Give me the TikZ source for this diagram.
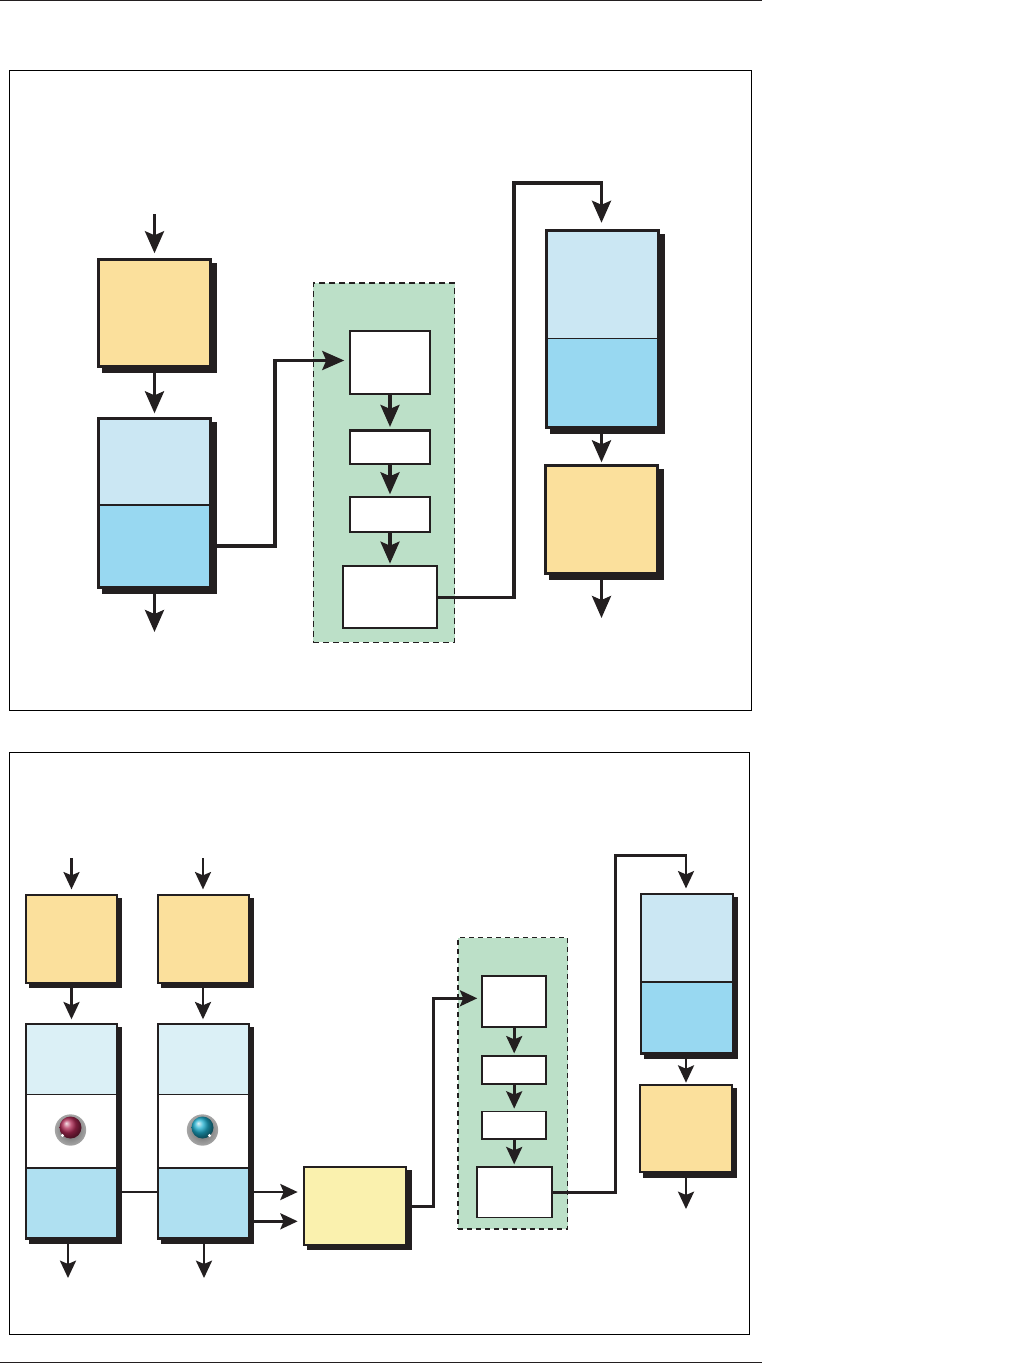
\documentclass[tikz,border=0pt]{standalone}
\usetikzlibrary{arrows.meta, positioning, shadows}

\definecolor{orangefill}{HTML}{FBE09C}
\definecolor{lightblue}{HTML}{CBE7F3}
\definecolor{midblue}{HTML}{98D8F1}
\definecolor{paleblue}{HTML}{DBF0F6}
\definecolor{skyblue}{HTML}{AFE0F1}
\definecolor{groupgreen}{HTML}{BCE0C8}
\definecolor{yellowfill}{HTML}{FAF1AE}
\definecolor{inkblack}{HTML}{231F20}
\definecolor{knobred}{HTML}{B02A55}
\definecolor{knobteal}{HTML}{1FB0D0}

\begin{document}
\begin{tikzpicture}[
    x=0.75pt, y=-0.75pt,
    node distance=26pt,
    stage/.style={rectangle, draw=inkblack, line width=2.3pt, inner sep=0pt, minimum width=84pt, drop shadow={shadow xshift=3.6pt, shadow yshift=-3.6pt, opacity=1, fill=inkblack, draw=inkblack, line width=2.3pt}},
    smallstage/.style={rectangle, draw=inkblack, line width=1.5pt, inner sep=0pt, minimum width=68.25pt, drop shadow={shadow xshift=3.2pt, shadow yshift=-3.2pt, opacity=1, fill=inkblack, draw=inkblack, line width=1.5pt}},
    section/.style={rectangle, draw=inkblack, line width=0.8pt, inner sep=0pt},
    panel/.style={rectangle, draw=black, line width=0.7pt, fill=white, inner sep=0pt},
    group/.style={rectangle, draw=inkblack, dash pattern=on 4.5pt off 3pt, line width=1.1pt, fill=groupgreen, inner sep=0pt},
    smallgroup/.style={rectangle, draw=inkblack, dash pattern=on 3.75pt off 3pt, line width=0.9pt, fill=groupgreen, inner sep=0pt},
    unit/.style={rectangle, draw=inkblack, line width=1.6pt, fill=white, inner sep=0pt},
    smallunit/.style={rectangle, draw=inkblack, line width=1.4pt, fill=white, inner sep=0pt},
    arrow/.style={-{Stealth[length=16.5pt, width=14.25pt, inset=3pt]}, draw=inkblack, line width=2.5pt},
    smallarrow/.style={-{Stealth[length=13pt, width=12pt, inset=2.5pt]}, draw=inkblack, line width=2pt}
]
\useasboundingbox (0,0) rectangle (1014,1363);

% Page rules
\coordinate (RuleTopL) at (0,0.5);
\coordinate (RuleTopR) at (762,0.5);
\coordinate (RuleBotL) at (0,1362.3);
\coordinate (RuleBotR) at (762,1362.3);
\draw[inkblack, line width=1pt] (RuleTopL) -- (RuleTopR);
\draw[inkblack, line width=0.9pt] (RuleBotL) -- (RuleBotR);

% Panels
\node[panel, minimum width=556.2pt, minimum height=480pt] (PanelA) at (380.4,390.5) {};
\node[panel, minimum width=555pt, minimum height=436.35pt] (PanelB) at (379.6,1043.4) {};

% Upper panel, left column
\node[stage, fill=orangefill, minimum height=80.5pt] (SrcA) at (154.5,313) {};
\node[stage, fill=lightblue, minimum height=126.6pt, below=36.85pt of SrcA] (SrcFrame) {};
\node[section, fill=midblue, minimum width=82.7pt, minimum height=60.95pt, anchor=south] (SrcBot) at ([yshift=1.8pt]SrcFrame.south) {};

% Upper panel, group
\node[group, minimum width=106pt, minimum height=269.5pt] (GroupA) at (384,462.6) {};
\node[unit, minimum width=59.5pt, minimum height=46.8pt] (UnitA) at (390,362.5) {};
\node[unit, minimum width=59.5pt, minimum height=25pt, below=26pt of UnitA] (UnitB) {};
\node[unit, minimum width=59.5pt, minimum height=26pt, below=23.5pt of UnitB] (UnitC) {};
\node[unit, minimum width=70pt, minimum height=46.8pt, below=23.7pt of UnitC] (UnitD) {};

% Upper panel, right column
\node[stage, fill=lightblue, minimum height=148pt] (DstFrame) at (602.5,329) {};
\node[section, fill=midblue, minimum width=82.7pt, minimum height=65.85pt, anchor=south] (DstBot) at ([yshift=1.8pt]DstFrame.south) {};
\node[stage, fill=orangefill, minimum height=80.9pt, below=26.35pt of DstFrame, xshift=-0.75pt] (DstA) {};

% Upper panel edges
\coordinate (InA) at (154.5,214);
\coordinate (OutA) at (154.5,632);
\coordinate (OutB) at (601.5,618);
\coordinate (TurnA) at (275,546);
\coordinate (TurnB) at (514,597.3);
\coordinate (TurnC) at (601.5,183);
\coordinate (EntryA) at (344,360.5);
\draw[arrow, shorten >=3.4pt] (InA) -- (SrcA);
\draw[arrow, shorten >=3pt] (SrcA) -- (SrcFrame);
\draw[arrow] (SrcFrame.south -| OutA) -- (OutA);
\draw[arrow, shorten >=3.75pt] (SrcFrame.east |- TurnA) -- (TurnA) |- (UnitA.west |- EntryA);
\draw[arrow, shorten >=1.9pt] (UnitA) -- (UnitB);
\draw[arrow, shorten >=1.5pt] (UnitB) -- (UnitC);
\draw[arrow, shorten >=0.75pt] (UnitC) -- (UnitD);
\draw[arrow, shorten >=4.5pt] (UnitD.east |- TurnB) -- (TurnB) |- (TurnC) -- (TurnC |- DstFrame.north);
\draw[arrow, shorten >=1.5pt] (DstFrame.south -| DstA) -- (DstA);
\draw[arrow] (DstA.south) -- (OutB);

% Lower panel, first column
\node[smallstage, fill=orangefill, minimum height=66.15pt] (SrcC) at (71.5,939) {};
\node[smallstage, fill=paleblue, minimum height=161.4pt, below=28.9pt of SrcC] (ChanFrame) {};
\node[section, fill=white, minimum width=67.55pt, minimum height=55.5pt] (ChanMid) at (ChanFrame) {};
\node[section, fill=skyblue, minimum width=67.55pt, minimum height=52.4pt, anchor=south] (ChanBot) at ([yshift=1.1pt]ChanFrame.south) {};

% Lower panel, second column
\node[smallstage, fill=orangefill, minimum height=66.15pt] (SrcD) at (203,939) {};
\node[smallstage, fill=paleblue, minimum height=161.4pt, below=28.9pt of SrcD] (PassFrame) {};
\node[section, fill=white, minimum width=67.55pt, minimum height=55.5pt] (PassMid) at (PassFrame) {};
\node[section, fill=skyblue, minimum width=67.55pt, minimum height=52.4pt, anchor=south] (PassBot) at ([yshift=1.1pt]PassFrame.south) {};

% Knobs
\foreach \knobname/\kx/\kcol/\dotx in {KnobA/70.5/knobred/-8, KnobB/202.5/knobteal/7} {
    \node[circle, minimum size=23.5pt, inner sep=0pt, shade, inner color=gray!75!black, outer color=gray!70] (\knobname) at (\kx,1130) {};
    \node[circle, minimum size=16.5pt, inner sep=0pt, ball color=\kcol] (\knobname Ball) at (\kx,1127.5) {};
    \fill[white] ([shift={(\dotx,5.5)}]\knobname) circle (1.3pt);
}

% Lower panel, combiner and group
\node[smallstage, fill=yellowfill, minimum width=77pt, minimum height=58.35pt] (Combiner) at (355,1206) {};
\node[smallgroup, minimum width=82.3pt, minimum height=218.5pt] (GroupB) at (512.85,1083.35) {};
\node[smallunit, minimum width=48pt, minimum height=38pt] (UnitE) at (514.2,1001.5) {};
\node[smallunit, minimum width=48pt, minimum height=21pt, below=20.7pt of UnitE] (UnitF) {};
\node[smallunit, minimum width=48pt, minimum height=20.7pt, below=19pt of UnitF] (UnitG) {};
\node[smallunit, minimum width=56.4pt, minimum height=38.2pt, below=19.2pt of UnitG] (UnitH) {};

% Lower panel, right column
\node[smallstage, fill=lightblue, minimum height=120pt, minimum width=69pt] (DstFrameB) at (687,973.7) {};
\node[section, fill=midblue, minimum width=68.3pt, minimum height=53.05pt, anchor=south] (DstBotB) at ([yshift=1.1pt]DstFrameB.south) {};
\node[smallstage, fill=orangefill, minimum height=65.75pt, minimum width=69pt, below=21.75pt of DstFrameB, xshift=-0.6pt] (DstE) {};

% Lower panel edges
\coordinate (InC) at (71.5,858);
\coordinate (InD) at (203,858);
\coordinate (OutC) at (68,1278);
\coordinate (OutD) at (204,1278);
\coordinate (OutE) at (686,1209);
\coordinate (MergeA) at (304,1192);
\coordinate (MergeB) at (304,1221.3);
\coordinate (TurnD) at (433.3,1206.5);
\coordinate (EntryB) at (477,998.3);
\coordinate (TurnE) at (615.7,1192.3);
\coordinate (TurnF) at (686,855.7);
\draw[smallarrow, shorten >=3.4pt] (InC) -- (SrcC);
\draw[smallarrow, shorten >=3.4pt] (InD) -- (SrcD);
\draw[smallarrow, shorten >=2.5pt] (SrcC) -- (ChanFrame);
\draw[smallarrow, shorten >=2.5pt] (SrcD) -- (PassFrame);
\draw[smallarrow] (ChanFrame.south -| OutC) -- (OutC);
\draw[smallarrow] (PassFrame.south -| OutD) -- (OutD);
\draw[inkblack, line width=2pt] (ChanFrame.east |- MergeA) -- (PassFrame.west |- MergeA);
\draw[smallarrow, shorten >=3.75pt] (PassFrame.east |- MergeA) -- (Combiner.west |- MergeA);
\draw[smallarrow, shorten >=3.75pt] (PassFrame.east |- MergeB) -- (Combiner.west |- MergeB);
\draw[smallarrow, shorten >=3pt] (Combiner.east |- TurnD) -- (TurnD) |- (UnitE.west |- EntryB);
\draw[smallarrow, shorten >=1.5pt] (UnitE) -- (UnitF);
\draw[smallarrow, shorten >=1.5pt] (UnitF) -- (UnitG);
\draw[smallarrow, shorten >=1pt] (UnitG) -- (UnitH);
\draw[smallarrow, shorten >=3.2pt] (UnitH.east |- TurnE) -- (TurnE) |- (TurnF) -- (TurnF |- DstFrameB.north);
\draw[smallarrow, shorten >=0.75pt] (DstFrameB.south -| OutE) -- (OutE |- DstE.north);
\draw[smallarrow] (DstE.south -| OutE) -- (OutE);

\end{tikzpicture}
\end{document}
